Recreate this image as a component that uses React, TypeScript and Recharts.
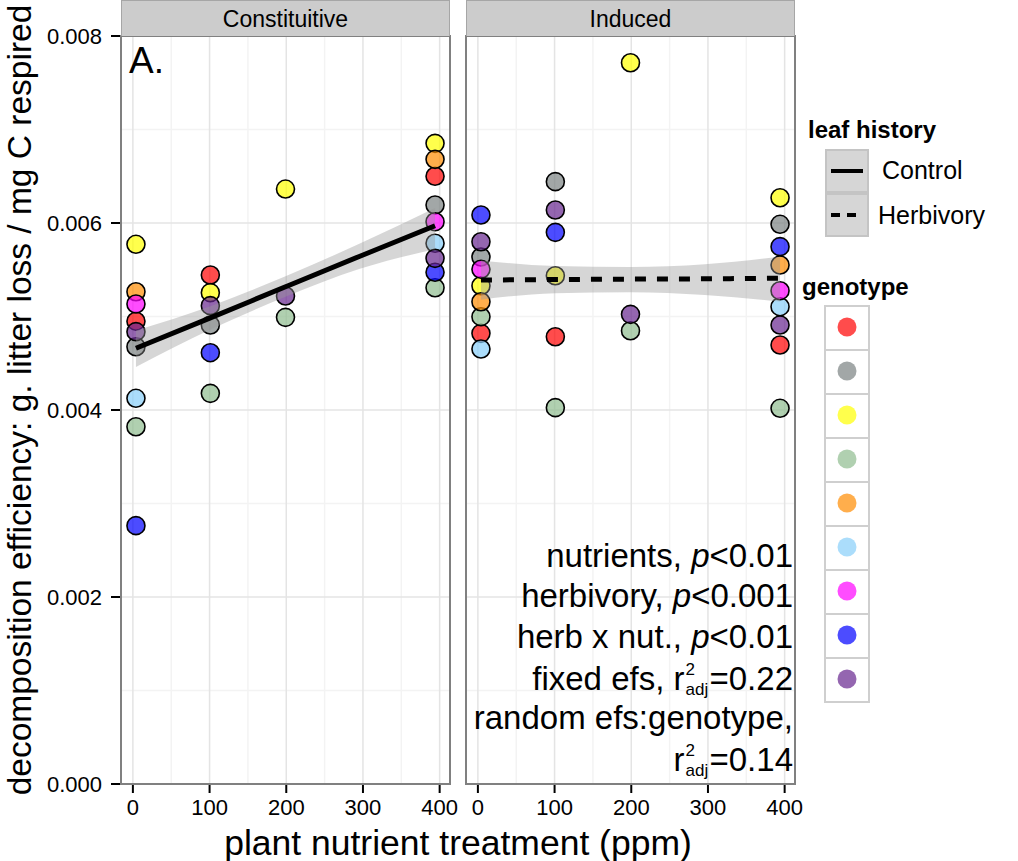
import React from "react";
import { ComposedChart, Scatter, Line, Area, XAxis, YAxis, CartesianGrid, ReferenceArea } from "recharts";

// nutrient levels (ppm) where the pots sit
const nutrientLevels = [4, 101, 199, 394];

// genotype fill colours (drawn at 0.7 alpha like the original)
const genotypeColors = ["#ff0000", "#7b8282", "#ffff00", "#8fbc8f", "#ff8c00", "#87cefa", "#ff00ff", "#0000ff", "#67258f"];

// decomposition efficiency per genotype, one value per nutrient level
const constitutive = [
  [0.00495, 0.005444, null, 0.0065],
  [0.004677, 0.004909, null, 0.006192],
  [0.005772, 0.005255, 0.006363, 0.006852],
  [0.003821, 0.004178, 0.004991, 0.005308],
  [0.005265, null, null, 0.006681],
  [0.004125, null, null, 0.005783],
  [0.005134, null, null, 0.006014],
  [0.002763, 0.004613, null, 0.005473],
  [0.004838, 0.005116, 0.005219, 0.005622],
];
const induced = [
  [0.00482, 0.004784, null, 0.004695],
  [0.005636, 0.006442, null, 0.005986],
  [0.005329, 0.005436, 0.007714, 0.00627],
  [0.004998, 0.004025, 0.004848, 0.004018],
  [0.005158, null, null, 0.005551],
  [0.004652, null, null, 0.005105],
  [0.005505, null, null, 0.005276],
  [0.006085, 0.0059, null, 0.005747],
  [0.0058, 0.006139, 0.005023, 0.004909],
];

// fitted line + confidence band
const fitX = [4, 101, 199, 296, 394];
const controlFit = [0.00466, 0.004985, 0.005318, 0.005645, 0.00597];
const controlLo = [0.00446, 0.00486, 0.00521, 0.00551, 0.00572];
const controlHi = [0.00485, 0.00511, 0.00543, 0.00578, 0.00616];
const herbFit = [0.00539, 0.005395, 0.0054, 0.005403, 0.00541];
const herbLo = [0.00518, 0.00525, 0.00526, 0.00523, 0.00516];
const herbHi = [0.0056, 0.00554, 0.00553, 0.00556, 0.00564];

const xTicks = [0, 100, 200, 300, 400];
const xMinor = [50, 150, 250, 350];
const yTicks = [0, 0.002, 0.004, 0.006, 0.008];
const yMinor = [0.001, 0.003, 0.005, 0.007];
const xDomain = [-15.5, 413.5];
const yDomain = [0, 0.008];

const font = "'Liberation Sans', Arial, Helvetica, sans-serif";

const pointsFor = (vals: (number | null)[]) =>
  nutrientLevels
    .map((x, i) => ({ x, y: vals[i] }))
    .filter((d) => d.y !== null);

const bandFor = (fit: number[], lo: number[], hi: number[]) =>
  fitX.map((x, i) => ({ x, fit: fit[i], band: [lo[i], hi[i]] }));

const Dot = (color: string) => (p: any) =>
  <circle cx={p.cx} cy={p.cy} r={9} fill={color} fillOpacity={0.7} stroke="#000" strokeWidth={1.6} />;

const Panel: React.FC<{
  rows: (number | null)[][];
  band: { x: number; fit: number; band: number[] }[];
  dashed?: boolean;
  showY?: boolean;
  width: number;
  left: number;
  margin: { top: number; right: number; left: number; bottom: number };
}> = ({ rows, band, dashed, showY, width, left, margin }) => (
  <div style={{ position: "absolute", left, top: 0 }}>
    <ComposedChart width={width} height={861} data={band} margin={margin}>
      <CartesianGrid verticalValues={xMinor} horizontalValues={yMinor} stroke="#f3f3f3" strokeWidth={1.5} />
      <CartesianGrid verticalValues={xTicks} horizontalValues={yTicks} stroke="#e4e4e4" strokeWidth={1.5} />
      <XAxis
        dataKey="x"
        type="number"
        domain={xDomain}
        ticks={xTicks}
        allowDataOverflow
        axisLine={false}
        tickSize={9}
        tickMargin={6}
        height={77}
        tickLine={{ stroke: "#000", strokeWidth: 2 }}
        tick={{ fontSize: 22, fill: "#000" }}
      />
      <YAxis
        type="number"
        domain={yDomain}
        ticks={yTicks}
        allowDataOverflow
        hide={!showY}
        width={121}
        axisLine={false}
        tickSize={10}
        tickMargin={9}
        tickFormatter={(v: number) => v.toFixed(3)}
        tickLine={{ stroke: "#000", strokeWidth: 2 }}
        tick={{ fontSize: 22, fill: "#000" }}
      />
      {rows.map((vals, i) => (
        <Scatter
          key={i}
          data={pointsFor(vals)}
          dataKey="y"
          shape={Dot(genotypeColors[i])}
          isAnimationActive={false}
        />
      ))}
      <Area
        dataKey="band"
        type="monotone"
        fill="#999999"
        fillOpacity={0.4}
        stroke="none"
        isAnimationActive={false}
        zIndex={700}
      />
      <Line
        dataKey="fit"
        type="monotone"
        stroke="#000"
        strokeWidth={5}
        strokeDasharray={dashed ? "11 11" : undefined}
        dot={false}
        isAnimationActive={false}
        zIndex={800}
      />
      <ReferenceArea
        x1={xDomain[0]}
        x2={xDomain[1]}
        y1={yDomain[0]}
        y2={yDomain[1]}
        fill="none"
        stroke="#808080"
        strokeWidth={2}
        zIndex={900}
      />
    </ComposedChart>
  </div>
);

const Strip: React.FC<{ left: number; label: string }> = ({ left, label }) => (
  <div
    style={{
      position: "absolute",
      left,
      top: 0,
      width: 329,
      height: 36,
      boxSizing: "border-box",
      background: "#cccccc",
      border: "1.5px solid #a6a6a6",
      borderBottom: "none",
      fontSize: 23,
      lineHeight: "36px",
      textAlign: "center",
    }}
  >
    {label}
  </div>
);

const R2: React.FC = () => (
  <span>
    r
    <span style={{ position: "relative", display: "inline-block", width: 25, height: "1em" }}>
      <span style={{ position: "absolute", left: 1, top: 4, fontSize: 17, lineHeight: "17px" }}>2</span>
      <span style={{ position: "absolute", left: 1, top: 24, fontSize: 17, lineHeight: "17px" }}>adj</span>
    </span>
  </span>
);

const statLines: React.ReactNode[] = [
  <>nutrients, <i>p</i>&lt;0.01</>,
  <>herbivory, <i>p</i>&lt;0.001</>,
  <>herb x nut., <i>p</i>&lt;0.01</>,
  <>fixed efs, <R2 />=0.22</>,
  <>random efs:genotype,</>,
  <><R2 />=0.14</>,
];

export default function App() {
  return (
    <div style={{ position: "absolute", left: 0, top: 0, width: 1018, height: 861, background: "#fff", fontFamily: font, color: "#000" }}>
      <Panel
        rows={constitutive}
        band={bandFor(controlFit, controlLo, controlHi)}
        showY
        width={472}
        left={0}
        margin={{ top: 36, right: 22, left: 0, bottom: 0 }}
      />
      <Panel
        rows={induced}
        band={bandFor(herbFit, herbLo, herbHi)}
        dashed
        width={362}
        left={456}
        margin={{ top: 36, right: 23, left: 10, bottom: 0 }}
      />
      <Strip left={121} label="Constituitive" />
      <Strip left={466} label="Induced" />

      <div style={{ position: "absolute", left: 129, top: 40, fontSize: 37, lineHeight: "42px" }}>A.</div>

      {statLines.map((ln, i) => (
        <div
          key={i}
          style={{
            position: "absolute",
            right: 1018 - 793,
            top: 556 - 20 + i * 40.4,
            fontSize: 33,
            lineHeight: "40px",
            whiteSpace: "nowrap",
            textAlign: "right",
          }}
        >
          {ln}
        </div>
      ))}

      <div
        style={{
          position: "absolute",
          left: 20,
          top: 400,
          transform: "translate(-50%, -50%) rotate(-90deg)",
          fontSize: 33.5,
          whiteSpace: "nowrap",
          lineHeight: "38px",
        }}
      >
        decomposition efficiency: g. litter loss / mg C respired
      </div>
      <div style={{ position: "absolute", left: 121, width: 674, top: 823, fontSize: 35.5, lineHeight: "40px", textAlign: "center" }}>
        plant nutrient treatment (ppm)
      </div>

      {/* legend: leaf history */}
      <div style={{ position: "absolute", left: 808, top: 115, fontSize: 24, fontWeight: "bold", lineHeight: "30px" }}>leaf history</div>
      {["Control", "Herbivory"].map((lab, i) => (
        <React.Fragment key={lab}>
          <div
            style={{
              position: "absolute",
              left: 825,
              top: 149 + i * 44,
              width: 44,
              height: 44,
              boxSizing: "border-box",
              background: "#d6d6d6",
              border: "2px solid #c4c4c4",
            }}
          >
            <svg width={40} height={40} style={{ position: "absolute", left: 0, top: 0 }}>
              <line x1={4} x2={36} y1={20} y2={20} stroke="#000" strokeWidth={4} strokeDasharray={i ? "9 7" : undefined} />
            </svg>
          </div>
          <div style={{ position: "absolute", left: i ? 878 : 882, top: 155 + i * 45, fontSize: 25, lineHeight: "30px" }}>{lab}</div>
        </React.Fragment>
      ))}

      {/* legend: genotype */}
      <div style={{ position: "absolute", left: 802, top: 272, fontSize: 24, fontWeight: "bold", lineHeight: "30px" }}>genotype</div>
      {genotypeColors.map((c, i) => (
        <div
          key={c}
          style={{
            position: "absolute",
            left: 824,
            top: 305 + i * 44,
            width: 46,
            height: 46,
            boxSizing: "border-box",
            background: "#fff",
            border: "2px solid #cfcfcf",
          }}
        >
          <svg width={42} height={42} style={{ position: "absolute", left: 0, top: 0 }}>
            <circle cx={21} cy={20} r={9.5} fill={c} fillOpacity={0.7} />
          </svg>
        </div>
      ))}
    </div>
  );
}
